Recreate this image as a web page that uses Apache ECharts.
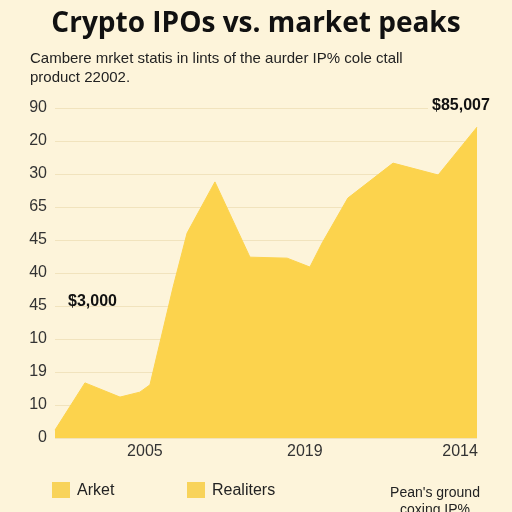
<!DOCTYPE html>
<html>
<head>
<meta charset="utf-8">
<script src="https://cdn.jsdelivr.net/npm/echarts@6/dist/echarts.min.js"></script>
<style>
html,body{margin:0;padding:0;background:#fdf4da;}
#c{width:512px;height:512px;}
</style>
</head>
<body>
<div id="c"></div>
<script>
// Data
var xPositions = [0, 7.1, 15.4, 20.1, 22.5, 28.0, 31.3, 37.9, 46.2, 55.0, 60.4, 63.3, 69.4, 80.1, 90.8, 100];
var marketValues = [2.4, 16.7, 12.4, 13.9, 16.1, 45.8, 62.1, 77.6, 54.8, 54.5, 51.8, 59.1, 72.7, 83.3, 79.7, 94.2];
var yTickLabels = ['0', '10', '19', '10', '45', '40', '45', '65', '30', '20', '90'];
var xTickValues = [21.3, 59.2, 96.0];
var xTickLabels = ['2005', '2019', '2014'];
var legendNames = ['Arket', 'Realiters'];
var annotations = ['$3,000', '$85,007'];

var seriesData = xPositions.map(function (x, i) { return [x, marketValues[i]]; });

var chart = echarts.init(document.getElementById('c'), null, {renderer: 'canvas'});
var yellow = '#fcd34d';
chart.setOption({
  backgroundColor: '#fdf4da',
  animation: false,
  title: {
    text: 'Crypto IPOs vs. market peaks',
    left: 'center',
    top: 5,
    textStyle: {fontFamily: 'Open Sans', fontWeight: 700, fontSize: 28, color: '#111'}
  },
  grid: {left: 55, right: 35, top: 108, bottom: 74, containLabel: false},
  xAxis: {
    type: 'value', min: 0, max: 100,
    axisLine: {show: false}, axisTick: {show: false}, splitLine: {show: false},
    axisLabel: {
      customValues: xTickValues,
      margin: 6,
      fontFamily: 'Liberation Sans', fontSize: 16, color: '#333',
      formatter: function (v) {
        var best = 0, d = 1e9;
        xTickValues.forEach(function (t, i) { if (Math.abs(t - v) < d) { d = Math.abs(t - v); best = i; } });
        return xTickLabels[best];
      }
    }
  },
  yAxis: {
    type: 'value', min: 0, max: 100, interval: 10,
    axisLine: {show: false}, axisTick: {show: false},
    splitLine: {lineStyle: {color: '#f1e3bd', width: 1}},
    axisLabel: {
      margin: 8,
      fontFamily: 'Liberation Sans', fontSize: 16, color: '#333',
      formatter: function (v) { return yTickLabels[Math.round(v / 10)]; }
    }
  },
  series: [{
    type: 'line',
    name: legendNames[0],
    data: seriesData,
    symbol: 'none',
    lineStyle: {color: yellow, width: 1},
    areaStyle: {color: yellow, opacity: 1}
  }],
  graphic: [
    {type: 'text', z: 100, left: 30, top: 49, style: {text: 'Cambere mrket statis in lints of the aurder IP% cole ctall\nproduct 22002.', fontFamily: 'Liberation Sans', fontSize: 15, lineHeight: 19, fill: '#222'}},
    {type: 'text', z: 100, left: 68, top: 294, style: {text: annotations[0], fontFamily: 'Liberation Sans', fontWeight: 700, fontSize: 16, fill: '#111'}},
    {type: 'rect', z: 99, shape: {x: 428, y: 98, width: 64, height: 18}, style: {fill: '#fdf4da'}},
    {type: 'text', z: 100, left: 432, top: 98, style: {text: annotations[1], fontFamily: 'Liberation Sans', fontWeight: 700, fontSize: 16, fill: '#111'}},
    {type: 'rect', z: 100, shape: {x: 52, y: 482, width: 18, height: 16}, style: {fill: '#f8d35a'}},
    {type: 'text', z: 100, left: 77, top: 483, style: {text: legendNames[0], fontFamily: 'Liberation Sans', fontSize: 16, fill: '#222'}},
    {type: 'rect', z: 100, shape: {x: 187, y: 482, width: 18, height: 16}, style: {fill: '#f8d35a'}},
    {type: 'text', z: 100, left: 212, top: 483, style: {text: legendNames[1], fontFamily: 'Liberation Sans', fontSize: 16, fill: '#222'}},
    {type: 'text', z: 100, x: 435, y: 485, style: {text: "Pean's ground\ncoxing IP%", align: 'center', fontFamily: 'Liberation Sans', fontSize: 14, lineHeight: 17, fill: '#222'}}
  ]
});
</script>
</body>
</html>
